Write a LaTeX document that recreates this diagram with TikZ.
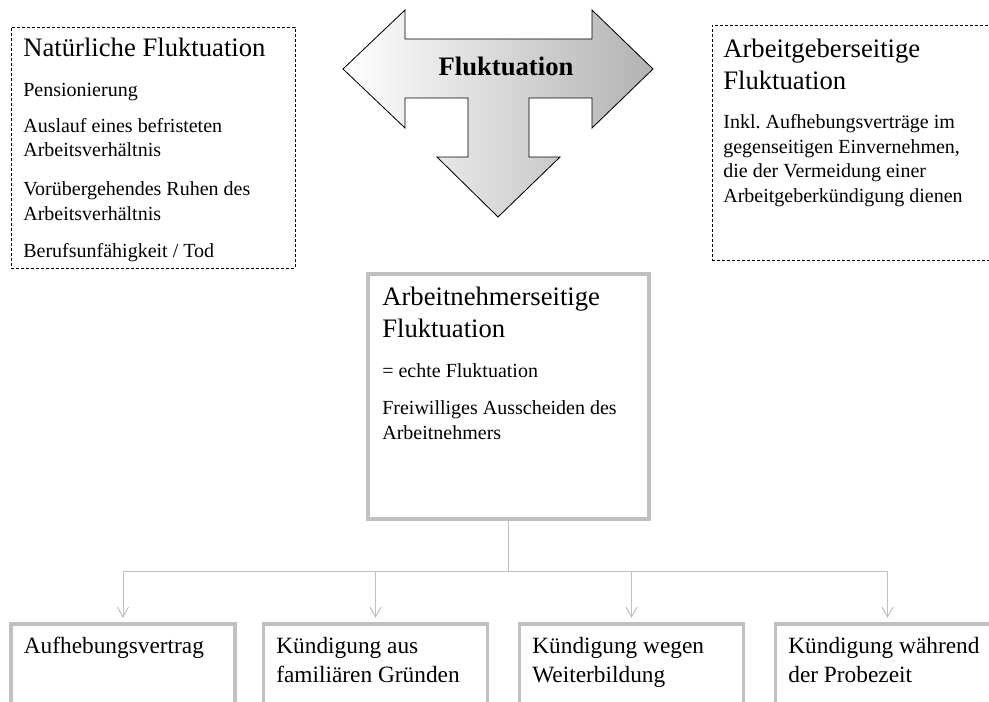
\documentclass[tikz,border=0pt]{standalone}
\usepackage{fontspec}
\setmainfont{Liberation Serif}
\usetikzlibrary{arrows.meta}
\definecolor{boxgrey}{RGB}{192,192,192}
\tikzset{
  dashbox/.style={draw, line width=0.5pt, dash pattern=on 2pt off 1pt, inner sep=0pt},
  greybox/.style={draw=boxgrey, line width=2pt, inner sep=0pt},
  conn/.style={draw=boxgrey, line width=0.6pt},
  bigtext/.style={anchor=base west, inner sep=0pt, align=left, font=\fontsize{16}{19.2}\selectfont},
  midtext/.style={anchor=base west, inner sep=0pt, align=left, font=\fontsize{14}{17.4}\selectfont},
  smalltext/.style={anchor=base west, inner sep=0pt, align=left, font=\fontsize{12}{14.7}\selectfont}
}
\begin{document}
\begin{tikzpicture}[x=0.6pt, y=-0.6pt]
\useasboundingbox (0,0) rectangle (989,702);
\clip (0,0) rectangle (989,702);

\shade[draw, line width=0.5pt, left color=white, right color=black!30]
  (343,69) -- (405,10) -- (405,39) -- (592,39) -- (592,10) -- (653,69)
  -- (592,128) -- (592,98) -- (529,98) -- (529,157) -- (560,157) -- (498,217)
  -- (437,157) -- (468,157) -- (468,98) -- (405,98) -- (405,128) -- cycle;
\node[font=\fontsize{16}{19.2}\selectfont\bfseries, anchor=base, inner sep=0pt] (fluk) at (506,76) {Fluktuation};

\node[dashbox, minimum width=170.4pt, minimum height=144.6pt] (natbox) at (153,147.5) {};
\node[bigtext] (natttl) at (23,57) {Natürliche Fluktuation};
\node[smalltext] (pens) at (23,97) {Pensionierung};
\node[smalltext] (ausl) at (23,157) {Auslauf eines befristeten\\Arbeitsverhältnis};
\node[smalltext] (ruhen) at (23,220) {Vorübergehendes Ruhen des\\Arbeitsverhältnis};
\node[smalltext] (tod) at (23,257) {Berufsunfähigkeit / Tod};

\node[dashbox, minimum width=172.8pt, minimum height=141pt] (agbox) at (856,142.5) {};
\node[bigtext] (agttl) at (723,90) {Arbeitgeberseitige\\Fluktuation};
\node[smalltext] (inkl) at (723,202) {Inkl.\ Aufhebungsverträge im\\gegenseitigen Einvernehmen,\\die der Vermeidung einer\\Arbeitgeberkündigung dienen};

\node[greybox, minimum width=168.6pt, minimum height=147pt] (anbox) at (508.5,396.5) {};
\node[bigtext] (anttl) at (382,337) {Arbeitnehmerseitige\\Fluktuation};
\node[smalltext] (echt) at (382,377) {= echte Fluktuation};
\node[smalltext] (freiw) at (382,439) {Freiwilliges Ausscheiden des\\Arbeitnehmers};

\coordinate (split) at (508.5,571);
\draw[conn] (anbox.south) -- (split);
\foreach \name/\x/\ty/\label in {aufh/123/653/{Aufhebungsvertrag}, fam/375.5/682/{Kündigung aus\\familiären Gründen}, weit/631.5/682/{Kündigung wegen\\Weiterbildung}, probe/887.5/682/{Kündigung während\\der Probezeit}}{
\node[greybox, minimum width=134.4pt, minimum height=69.6pt] (\name) at (\x,682) {};
\node[midtext] (t\name) at (\x-99.5,\ty) {\label};
\draw[conn, -{Straight Barb[length=6pt,width=6.6pt]}, shorten >=2.6pt] (split) -| (\name.north);
}
\end{tikzpicture}
\end{document}
